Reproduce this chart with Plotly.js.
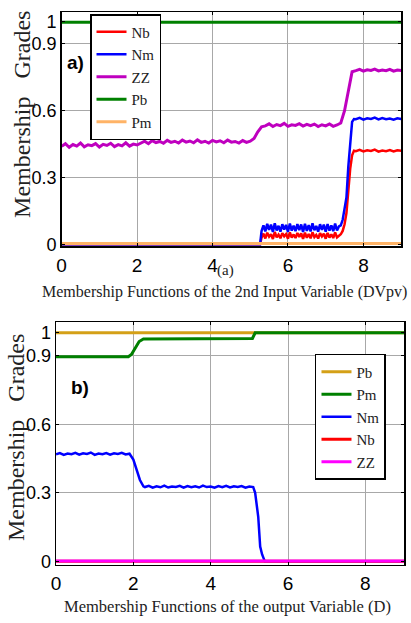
<!DOCTYPE html>
<html>
<head>
<meta charset="utf-8">
<script src="https://cdn.plot.ly/plotly-3.0.1.min.js"></script>
<style>html,body{margin:0;padding:0;background:#fff;}#chart{width:411px;height:623px;}</style>
</head>
<body>
<div id="chart"></div>
<script>
// ---------- Panel a) : 2nd input variable (DVpv) ----------
const aPbX = [0, 9];
const aPbY = [0.998, 0.998];
const aPmX = [0, 9];
const aPmY = [0.003, 0.003];

const aZZX = [0,0.1,0.2,0.3,0.4,0.5,0.6,0.7,0.8,0.9,1.0,1.1,1.2,1.3,1.4,1.5,1.6,1.7,1.8,1.9,2.0,
  2.1,2.2,2.3,2.4,2.5,2.6,2.7,2.8,2.9,3.0,3.1,3.2,3.3,3.4,3.5,3.6,3.7,3.8,3.9,4.0,4.1,4.2,4.3,4.4,4.5,4.6,4.7,4.8,4.9,5.0,
  5.1,5.2,5.3,
  5.4,5.5,5.6,5.7,5.8,5.9,6.0,6.1,6.2,6.3,6.4,6.5,6.6,6.7,6.8,6.9,7.0,7.1,7.2,7.3,
  7.4,7.5,7.6,7.7,
  7.8,7.9,8.0,8.1,8.2,8.3,8.4,8.5,8.6,8.7,8.8,8.9,9.0];
const aZZY = [0.440,0.452,0.436,0.448,0.441,0.455,0.438,0.447,0.443,0.452,0.437,0.449,0.444,0.454,0.439,0.448,0.442,0.456,0.441,0.450,0.446,
  0.455,0.463,0.452,0.466,0.457,0.462,0.454,0.467,0.458,0.463,0.455,0.468,0.459,0.464,0.456,0.469,0.458,0.463,0.455,0.467,0.460,0.465,0.456,0.468,0.459,0.462,0.455,0.466,0.458,0.463,
  0.475,0.505,0.528,
  0.532,0.541,0.529,0.538,0.533,0.543,0.530,0.537,0.534,0.542,0.531,0.539,0.533,0.540,0.529,0.537,0.532,0.541,0.530,0.536,
  0.545,0.600,0.690,0.775,
  0.780,0.786,0.778,0.784,0.781,0.787,0.779,0.783,0.780,0.786,0.778,0.783,0.781];

const aBandX = [0, 5.26,
  5.30,5.35,5.40,5.45,5.50,5.55,5.60,5.65,5.70,5.75,5.80,5.85,5.90,5.95,6.00,6.05,6.10,6.15,6.20,6.25,
  6.30,6.35,6.40,6.45,6.50,6.55,6.60,6.65,6.70,6.75,6.80,6.85,6.90,6.95,7.00,7.05,7.10,7.15,7.20,7.25,7.30,7.35,
  7.40,7.45,7.50,7.55,7.60,7.65,7.70,7.75,
  7.8,7.9,8.0,8.1,8.2,8.3,8.4,8.5,8.6,8.7,8.8,8.9,9.0];
const aNmY = [0, 0,
  0.060,0.085,0.058,0.092,0.065,0.088,0.055,0.094,0.062,0.083,
  0.057,0.090,0.066,0.087,0.056,0.093,0.061,0.084,0.059,0.091,
  0.064,0.089,0.055,0.092,0.060,0.086,0.058,0.094,0.063,0.082,
  0.057,0.090,0.065,0.088,0.056,0.091,0.061,0.085,0.059,0.093,
  0.062,0.080,
  0.085,0.110,0.160,0.210,0.350,0.470,0.550,0.563,
  0.562,0.568,0.560,0.566,0.563,0.569,0.561,0.567,0.562,0.565,0.560,0.566,0.563];
const aNbY = [0, 0,
  0.030,0.048,0.026,0.052,0.034,0.045,0.024,0.055,0.031,0.043,
  0.027,0.050,0.036,0.046,0.025,0.053,0.030,0.044,0.028,0.051,
  0.033,0.049,0.024,0.052,0.029,0.046,0.027,0.054,0.032,0.042,
  0.026,0.050,0.035,0.047,0.025,0.051,0.030,0.045,0.028,0.053,
  0.031,0.040,
  0.045,0.060,0.090,0.140,0.240,0.340,0.400,0.420,
  0.418,0.424,0.417,0.422,0.419,0.425,0.416,0.421,0.418,0.423,0.417,0.422,0.420];

// ---------- Panel b) : output variable (D) ----------
const bPbX = [0, 9];
const bPbY = [1.0, 1.0];
const bPmX = [0, 1.87, 1.95, 2.05, 2.15, 2.26, 5.08, 5.15, 9];
const bPmY = [0.895, 0.895, 0.905, 0.935, 0.962, 0.973, 0.975, 1.0, 1.0];
const bNmX = [0,0.1,0.2,0.3,0.4,0.5,0.6,0.7,0.8,0.9,1.0,1.1,1.2,1.3,1.4,1.5,1.6,1.7,1.8,1.9,
  2.0,2.09,2.17,2.26,
  2.3,2.4,2.5,2.6,2.7,2.8,2.9,3.0,3.1,3.2,3.3,3.4,3.5,3.6,3.7,3.8,3.9,4.0,4.1,4.2,4.3,4.4,4.5,4.6,4.7,4.8,4.9,5.0,
  5.1,5.15,5.23,5.28,5.33,5.4,9.0];
const bNmY = [0.468,0.474,0.466,0.472,0.469,0.475,0.467,0.473,0.470,0.476,0.466,0.472,0.469,0.474,0.467,0.473,0.470,0.475,0.468,0.471,
  0.445,0.400,0.356,0.328,
  0.325,0.330,0.322,0.328,0.324,0.331,0.323,0.327,0.325,0.330,0.322,0.329,0.324,0.328,0.323,0.331,0.325,0.327,0.322,0.329,0.324,0.330,0.323,0.328,0.325,0.329,0.322,0.327,
  0.325,0.300,0.195,0.065,0.030,0.0,0.0];
const bNbX = [0, 9];
const bNbY = [0, 0];
const bZZX = [0, 9];
const bZZY = [0.002, 0.002];

const xTicks = [0, 2, 4, 6, 8];
const yTicks = [0, 0.3, 0.6, 0.9, 1];
const yTickText = ['0', '0.3', '0.6', '0.9', '1'];

const serif = 'Liberation Serif, Times New Roman, serif';
const sans = 'Liberation Sans, Arial, sans-serif';

const traces = [
  {x: aBandX, y: aNbY, name: 'Nb', mode: 'lines', line: {color: '#ff0000', width: 2.5}, xaxis: 'x', yaxis: 'y', legend: 'legend'},
  {x: aBandX, y: aNmY, name: 'Nm', mode: 'lines', line: {color: '#0000ff', width: 2.5}, xaxis: 'x', yaxis: 'y', legend: 'legend'},
  {x: aZZX, y: aZZY, name: 'ZZ', mode: 'lines', line: {color: '#bf00bf', width: 3}, xaxis: 'x', yaxis: 'y', legend: 'legend'},
  {x: aPbX, y: aPbY, name: 'Pb', mode: 'lines', line: {color: '#008000', width: 3}, xaxis: 'x', yaxis: 'y', legend: 'legend'},
  {x: aPmX, y: aPmY, name: 'Pm', mode: 'lines', line: {color: '#ffb366', width: 3}, xaxis: 'x', yaxis: 'y', legend: 'legend'},

  {x: bPbX, y: bPbY, name: 'Pb', mode: 'lines', line: {color: '#d4a017', width: 3}, xaxis: 'x2', yaxis: 'y2', legend: 'legend2'},
  {x: bPmX, y: bPmY, name: 'Pm', mode: 'lines', line: {color: '#008000', width: 3}, xaxis: 'x2', yaxis: 'y2', legend: 'legend2'},
  {x: bNmX, y: bNmY, name: 'Nm', mode: 'lines', line: {color: '#0000ff', width: 2.5}, xaxis: 'x2', yaxis: 'y2', legend: 'legend2'},
  {x: bNbX, y: bNbY, name: 'Nb', mode: 'lines', line: {color: '#ff0000', width: 3}, xaxis: 'x2', yaxis: 'y2', legend: 'legend2'},
  {x: bZZX, y: bZZY, name: 'ZZ', mode: 'lines', line: {color: '#ff00ff', width: 3}, xaxis: 'x2', yaxis: 'y2', legend: 'legend2'}
];

function xAxis(domain, anchor) {
  return {
    domain: domain, anchor: anchor, range: [0, 9], tickvals: xTicks,
    showline: true, linecolor: '#000', linewidth: 1.5, mirror: 'ticks',
    ticks: 'inside', ticklen: 3, tickcolor: '#000',
    showgrid: true, gridcolor: '#a8a8a8', gridwidth: 1, zeroline: false,
    tickfont: {family: sans, size: 19, color: '#000'}, ticklabelstandoff: 1
  };
}
function yAxis(domain, anchor, range) {
  return {
    domain: domain, anchor: anchor, range: range, tickvals: yTicks, ticktext: yTickText,
    showline: true, linecolor: '#000', linewidth: 1.5, mirror: 'ticks',
    ticks: 'inside', ticklen: 3, tickcolor: '#000',
    showgrid: true, gridcolor: '#a8a8a8', gridwidth: 1, zeroline: false,
    tickfont: {family: sans, size: 18, color: '#000'}, ticklabelstandoff: 0
  };
}

const legendBase = {
  xanchor: 'left', yanchor: 'top', bgcolor: '#fff', bordercolor: '#000', borderwidth: 1.5,
  font: {family: serif, size: 15, color: '#222'}, tracegroupgap: 0
};

const layout = {
  width: 411, height: 623,
  margin: {l: 0, r: 0, t: 0, b: 0},
  paper_bgcolor: '#fff', plot_bgcolor: '#fff',
  showlegend: true,
  xaxis: xAxis([0.150, 0.976], 'y'),
  yaxis: yAxis([0.6047, 0.9807], 'x', [-0.009, 1.0436]),
  xaxis2: xAxis([0.1363, 0.983], 'y2'),
  yaxis2: yAxis([0.0931, 0.4827], 'x2', [-0.016, 1.046]),
  legend: Object.assign({}, legendBase, {x: 0.219, y: 0.9775}),
  legend2: Object.assign({}, legendBase, {x: 0.7664, y: 0.4318}),
  annotations: [
    {text: 'Membership Functions of the 2nd Input Variable (DVpv)', xref: 'paper', yref: 'paper', x: 0.547, y: 0.5313,
     xanchor: 'center', yanchor: 'middle', showarrow: false, font: {family: serif, size: 16, color: '#222'}},
    {text: 'Membership Functions of the output Variable (D)', xref: 'paper', yref: 'paper', x: 0.5535, y: 0.0262,
     xanchor: 'center', yanchor: 'middle', showarrow: false, font: {family: serif, size: 16.5, color: '#222'}},
    {text: 'Membership\u00a0\u00a0\u00a0Grades', xref: 'paper', yref: 'paper', x: 0.052, y: 0.8162, textangle: -90,
     xanchor: 'center', yanchor: 'middle', showarrow: false, font: {family: serif, size: 24, color: '#222'}},
    {text: 'Membership\u00a0\u00a0\u00a0Grades', xref: 'paper', yref: 'paper', x: 0.039, y: 0.297, textangle: -90,
     xanchor: 'center', yanchor: 'middle', showarrow: false, font: {family: serif, size: 24, color: '#222'}},
    {text: '<b>a)</b>', xref: 'paper', yref: 'paper', x: 0.1825, y: 0.8989,
     xanchor: 'center', yanchor: 'middle', showarrow: false, font: {family: sans, size: 19, color: '#000'}},
    {text: '<b>b)</b>', xref: 'paper', yref: 'paper', x: 0.1946, y: 0.3788,
     xanchor: 'center', yanchor: 'middle', showarrow: false, font: {family: sans, size: 19, color: '#000'}},
    {text: '(a)', xref: 'paper', yref: 'paper', x: 0.549, y: 0.5666,
     xanchor: 'center', yanchor: 'middle', showarrow: false, font: {family: serif, size: 15, color: '#222'}}
  ]
};

Plotly.newPlot('chart', traces, layout, {displayModeBar: false, staticPlot: true});
</script>
</body>
</html>
